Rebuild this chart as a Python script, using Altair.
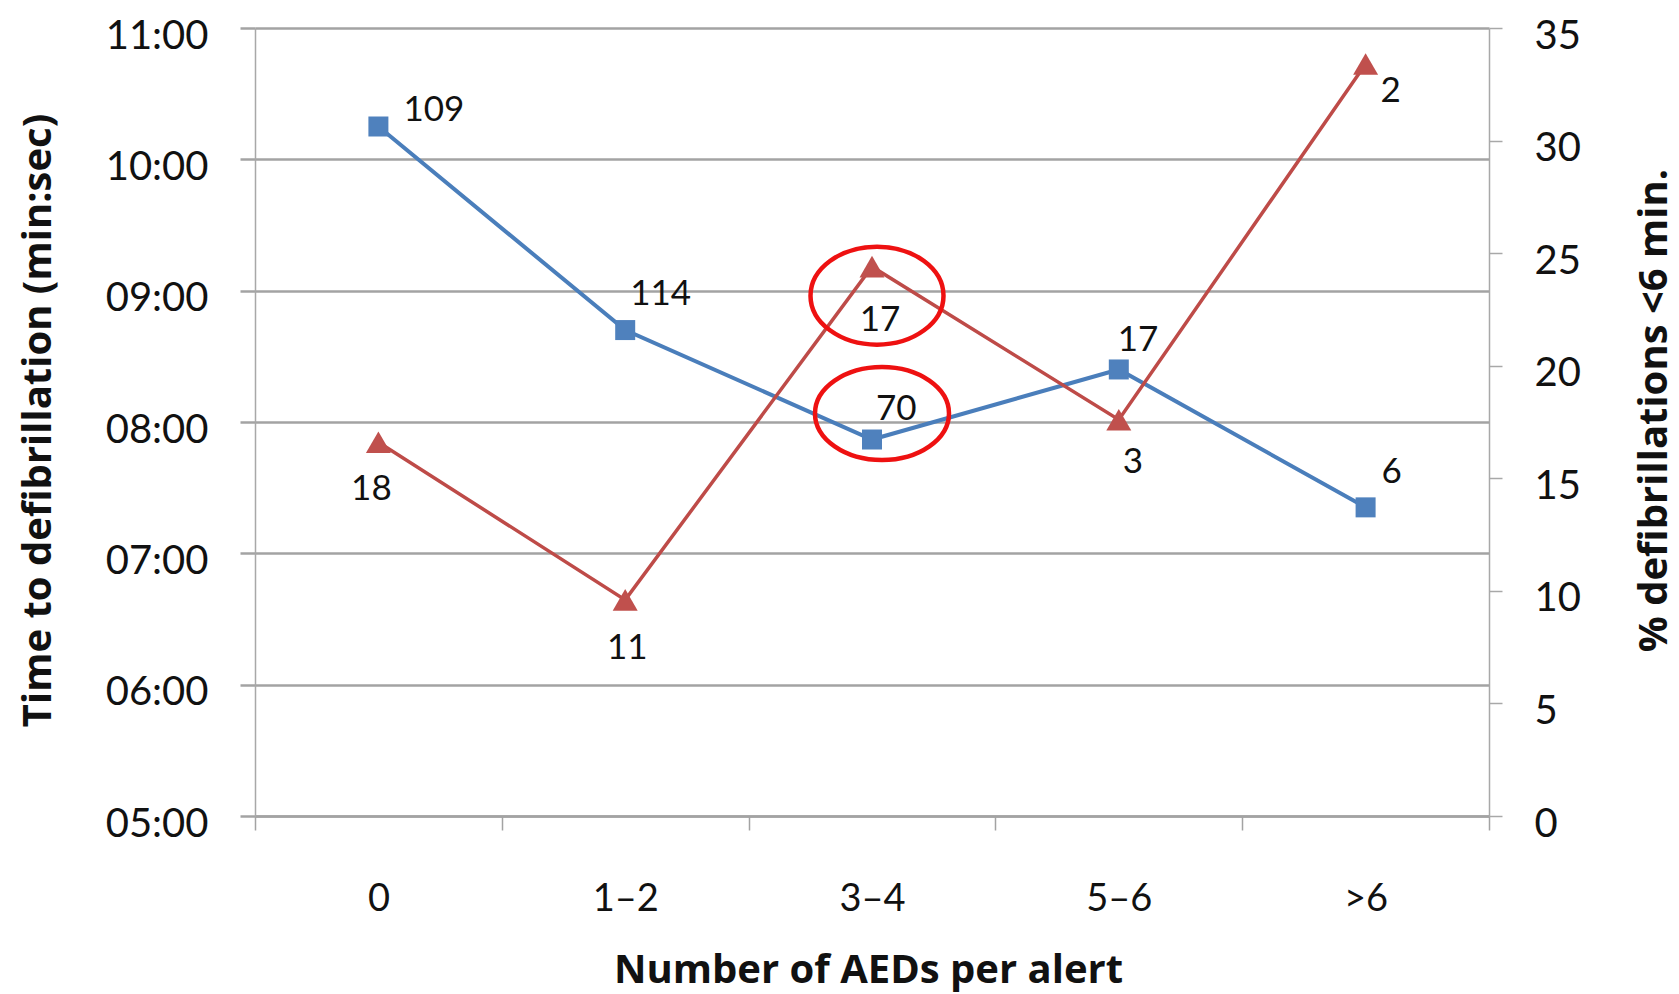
import altair as alt
import pandas as pd

# Number of AEDs alerted per call (x categories)
AED_GROUPS = ["0", "1–2", "3–4", "5–6", ">6"]
# Median time to defibrillation, mm:ss (left axis)
TIME_TO_DEFIB = ["10:15", "08:42", "07:52", "08:24", "07:21"]
# Patients behind each time value
TIME_N = [109, 114, 70, 17, 6]
# Share of defibrillations within 6 minutes, % (right axis)
PCT_UNDER_6 = [16.6, 9.6, 24.4, 17.6, 33.4]
# Patients behind each percentage
PCT_N = [18, 11, 17, 3, 2]

HIGHLIGHT = "3–4"


def to_minutes(text):
    m, s = text.split(":")
    return int(m) + int(s) / 60


df = pd.DataFrame({
    "group": AED_GROUPS,
    "minutes": [to_minutes(t) for t in TIME_TO_DEFIB],
    "time_n": TIME_N,
    "pct": PCT_UNDER_6,
    "pct_n": PCT_N,
})

# styling
BLUE = "#4a7ebb"
BLUE_MARK = "#4f81bd"
RED = "#be4b48"
RED_MARK = "#c0504d"
RING = "#ee1111"
GRID = "#a3a3a3"
AXIS = "#a8a8a8"
INK = "#111111"
TICK_FONT = "Lato"
TITLE_FONT = "Open Sans"

# label placement (dx, dy) per category
BLUE_LABEL_OFFSET = {"0": (25, -6), "1–2": (5, -25), "3–4": (4, -20),
                     "5–6": (-1, -18), ">6": (16, -24)}
RED_LABEL_OFFSET = {"0": (-7, 58), "1–2": (2, 59), "3–4": (8, 64),
                    "5–6": (14, 53), ">6": (25, 38)}


def ellipse_path(ratio):
    k = 0.5523
    r = ratio
    return (f"M -1 0 C -1 {-k*r:.4f} {-k:.4f} {-r:.4f} 0 {-r:.4f} "
            f"C {k:.4f} {-r:.4f} 1 {-k*r:.4f} 1 0 "
            f"C 1 {k*r:.4f} {k:.4f} {r:.4f} 0 {r:.4f} "
            f"C {-k:.4f} {r:.4f} -1 {k*r:.4f} -1 0 Z")


base = alt.Chart(df)

x_enc = alt.X(
    "group:N",
    sort=AED_GROUPS,
    scale=alt.Scale(type="band", paddingInner=0, paddingOuter=0),
    axis=alt.Axis(
        title="Number of AEDs per alert",
        labelAngle=0,
        tickBand="extent",
        ticks=True,
        tickSize=14,
        tickColor=GRID,
        tickWidth=1.5,
        domain=True,
        domainColor=GRID,
        domainWidth=2.5,
        grid=False,
        labelFont=TICK_FONT,
        labelFontSize=38,
        labelColor=INK,
        labelBaseline="alphabetic",
        labelPadding=80,
        titleFont=TITLE_FONT,
        titleFontSize=40,
        titleFontWeight="bold",
        titleColor=INK,
        titleX=613,
        titleY=166,
        titleAlign="center",
        titleBaseline="alphabetic",
    ),
)

y_time = alt.Y(
    "minutes:Q",
    scale=alt.Scale(domain=[5, 11], nice=False, zero=False),
    axis=alt.Axis(
        title="Time to defibrillation (min:sec)",
        values=[5, 6, 7, 8, 9, 10, 11],
        labelExpr="(datum.value < 10 ? '0' : '') + datum.value + ':00'",
        grid=True,
        gridColor=GRID,
        gridWidth=2.5,
        domain=True,
        domainColor=AXIS,
        domainWidth=1.5,
        ticks=True,
        tickSize=15,
        tickColor=GRID,
        tickWidth=2.5,
        labelFont=TICK_FONT,
        labelFontSize=40,
        labelColor=INK,
        labelAlign="right",
        labelBaseline="alphabetic",
        labelOffset=20,
        labelPadding=32,
        titleFont=TITLE_FONT,
        titleFontSize=40,
        titleFontWeight="bold",
        titleColor=INK,
        titleAngle=-90,
        titleX=-205,
        titleY=392,
        titleAlign="center",
        titleBaseline="alphabetic",
    ),
)

y_pct = alt.Y(
    "pct:Q",
    scale=alt.Scale(domain=[0, 35], nice=False, zero=True),
    axis=alt.Axis(
        orient="right",
        title="% defibrillations <6 min.",
        values=[0, 5, 10, 15, 20, 25, 30, 35],
        grid=False,
        domain=True,
        domainColor=AXIS,
        domainWidth=1.5,
        ticks=True,
        tickSize=13,
        tickColor=AXIS,
        tickWidth=1.5,
        labelFont=TICK_FONT,
        labelFontSize=40,
        labelColor=INK,
        labelAlign="left",
        labelBaseline="alphabetic",
        labelOffset=20,
        labelPadding=32,
        titleFont=TITLE_FONT,
        titleFontSize=40,
        titleFontWeight="bold",
        titleColor=INK,
        titleAngle=-90,
        titleX=177,
        titleY=382,
        titleAlign="center",
        titleBaseline="alphabetic",
    ),
)

# time series (left axis)
time_line = base.mark_line(color=BLUE, strokeWidth=4).encode(x=x_enc, y=y_time)
time_pts = base.mark_point(shape="square", filled=True, size=400, color=BLUE_MARK,
                           opacity=1).encode(x=x_enc, y=y_time)
time_labels = [
    base.transform_filter(alt.datum.group == g).mark_text(
        font=TICK_FONT, fontSize=35, color=INK, align="left",
        baseline="alphabetic", dx=dx, dy=dy,
    ).encode(x=x_enc, y=y_time, text="time_n:Q")
    for g, (dx, dy) in BLUE_LABEL_OFFSET.items()
]
time_ring = base.transform_filter(alt.datum.group == HIGHLIGHT).mark_point(
    shape=ellipse_path(0.694), size=17956, filled=False, stroke=RING,
    strokeWidth=4.5, opacity=1, xOffset=10, yOffset=-26,
).encode(x=x_enc, y=y_time)

left = alt.layer(time_line, time_pts, *time_labels, time_ring)

# percentage series (right axis)
pct_line = base.mark_line(color=RED, strokeWidth=3.5).encode(x=x_enc, y=y_pct)
pct_pts = base.mark_point(shape="triangle-up", filled=True, size=625, color=RED_MARK,
                          opacity=1).encode(x=x_enc, y=y_pct)
pct_labels = [
    base.transform_filter(alt.datum.group == g).mark_text(
        font=TICK_FONT, fontSize=35, color=INK, align="center",
        baseline="alphabetic", dx=dx, dy=dy,
    ).encode(x=x_enc, y=y_pct, text="pct_n:Q")
    for g, (dx, dy) in RED_LABEL_OFFSET.items()
]
pct_ring = base.transform_filter(alt.datum.group == HIGHLIGHT).mark_point(
    shape=ellipse_path(0.737), size=17689, filled=False, stroke=RING,
    strokeWidth=4.5, opacity=1, xOffset=5, yOffset=29,
).encode(x=x_enc, y=y_pct)

right = alt.layer(pct_line, pct_pts, *pct_labels, pct_ring)

chart = (
    alt.layer(left, right)
    .resolve_scale(y="independent")
    .properties(
        width=1234,
        height=788,
        autosize=alt.AutoSizeParams(type="none"),
        padding={"left": 255, "top": 28, "right": 190, "bottom": 178},
        background="white",
    )
    .configure_view(stroke=None)
)

chart.save("out.html", embed_options={"renderer": "svg", "actions": False})
